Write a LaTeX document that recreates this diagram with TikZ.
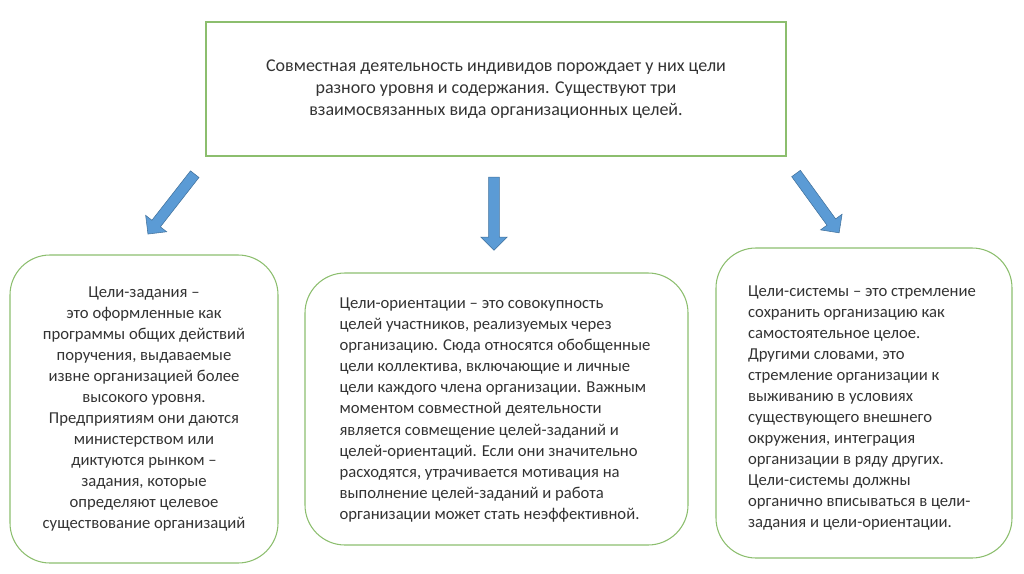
\documentclass[tikz,border=0pt]{standalone}
\usepackage{fontspec}
\setmainfont{Carlito}
\usetikzlibrary{shapes.arrows}
\definecolor{boxgreen}{RGB}{140,190,110}
\definecolor{arrowblue}{RGB}{91,155,213}
\definecolor{arrowline}{RGB}{65,113,156}
\begin{document}
\begin{tikzpicture}[x=0.75pt,y=-0.75pt,
    box/.style={draw=boxgreen,line width=0.8pt},
    txt/.style={font=\fontsize{12.5pt}{15.8pt}\selectfont,color=black!80,inner sep=0pt},
    blockarrow/.style={single arrow,draw=arrowline,fill=arrowblue,minimum width=20pt,
      single arrow head extend=4pt,inner sep=2.5pt,minimum height=#1}]
          \useasboundingbox (0,0) rectangle (1024,574);
          \node[box,minimum width=435pt,minimum height=100.5pt] (top) at (496,89) {};
          \node[txt,font=\fontsize{13.5pt}{16.5pt}\selectfont,align=center] (toptext) at (496,89)
            {Совместная деятельность индивидов порождает у них цели\\разного уровня и содержания. Существуют три\\взаимосвязанных вида организационных целей.};
          \draw[box,rounded corners=30pt] (10,255) rectangle (278,563);
          \draw[box,rounded corners=30pt] (305,273) rectangle (688,545);
          \draw[box,rounded corners=30pt] (716,248) rectangle (1012,558);
          \node[txt,align=center] (left) at (144,409)
            {Цели-задания --\\это оформленные как\\программы общих действий\\поручения, выдаваемые\\извне организацией более\\высокого уровня.\\Предприятиям они даются\\министерством или\\диктуются рынком --\\задания, которые\\определяют целевое\\существование организаций};
          \node[txt,align=left] (mid) at (495,410)
            {Цели-ориентации -- это совокупность\\целей участников, реализуемых через\\организацию. Сюда относятся обобщенные\\цели коллектива, включающие и личные\\цели каждого члена организации. Важным\\моментом совместной деятельности\\является совмещение целей-заданий и\\целей-ориентаций. Если они значительно\\расходятся, утрачивается мотивация на\\выполнение целей-заданий и работа\\организации может стать неэффективной.};
          \node[txt,align=left] (right) at (862,408)
            {Цели-системы -- это стремление\\сохранить организацию как\\самостоятельное целое.\\Другими словами, это\\стремление организации к\\выживанию в условиях\\существующего внешнего\\окружения, интеграция\\организации в ряду других.\\Цели-системы должны\\органично вписываться в цели-\\задания и цели-ориентации.};
          \node[blockarrow=57pt,rotate=-128] (a1) at (173,202) {};
          \node[blockarrow=55pt,rotate=-90] (a2) at (494,211) {};
          \node[blockarrow=55pt,rotate=-54] (a3) at (816,201) {};
        \end{tikzpicture}
\end{document}
